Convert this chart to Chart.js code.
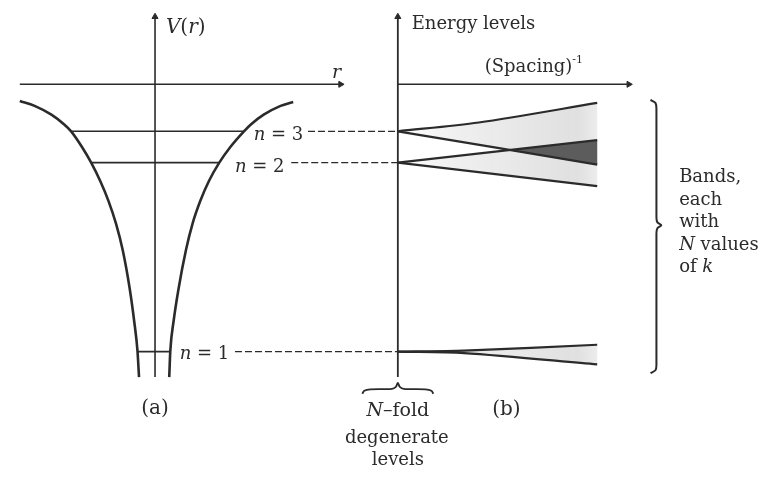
<!DOCTYPE html>
<html><head><meta charset="utf-8">
<script src="https://cdn.jsdelivr.net/npm/chart.js@4"></script>
<style>html,body{margin:0;padding:0;background:#fff}canvas{display:block}</style>
</head><body>
<canvas id="c" width="770" height="480"></canvas>
<script>
// ---------- data (diagram units: x = horizontal position, y = energy; V = 0 on the r axis) ----------
const wellLeftX  = [1.5, 3.0, 4.7, 6.0, 6.7, 7.8, 8.73, 9.66, 10.48, 11.24, 11.92, 12.64, 13.09, 13.42, 13.58];
const wellLeftE  = [-1.7, -2.2, -3.1, -4.1, -4.8, -6.4, -8.0, -9.9, -11.9, -14.2, -16.9, -20.9, -24.2, -27.2, -29.9];
const wellRightX = [29.2, 27.92, 26.21, 24.91, 24.21, 22.83, 21.71, 20.65, 19.79, 19.01, 18.34, 17.58, 17.08, 16.75, 16.64];
const wellRightE = [-1.8, -2.2, -3.1, -4.1, -4.8, -6.4, -8.0, -9.9, -11.9, -14.2, -16.9, -20.9, -24.2, -27.2, -29.9];

const levelLabels = ['3', '2', '1'];
const levelE      = [-4.8, -8.0, -27.3];
const levelLeftX  = [6.7, 8.73, 13.42];
const levelRightX = [24.21, 21.71, 16.75];
const dashStartX  = [30.7, 29.0, 23.3];
const levelLabelX = [25.2, 23.3, 17.7];
const levelLabelY = [-5.7, -9.0, -28.1];

const vAxisX = 15.2, eAxisX = 39.8;
const axisBottomE = -29.9, axisTopE = 6.9;
const rAxisStartX = 1.5, rAxisEndX = 34.0, spacingAxisEndX = 63.2;

// band edges: x positions and energies
const band3UpperX = [39.8, 48.0, 60.0], band3UpperE = [-4.8, -3.9, -1.9];
const band3LowerX = [39.8, 60.0],       band3LowerE = [-4.8, -8.2];
const band2UpperX = [39.8, 60.0],       band2UpperE = [-8.0, -5.7];
const band2LowerX = [39.8, 60.0],       band2LowerE = [-8.0, -10.4];
const band1UpperX = [39.8, 46.5, 60.0], band1UpperE = [-27.3, -27.2, -26.6];
const band1LowerX = [39.8, 46.5, 60.0], band1LowerE = [-27.3, -27.45, -28.6];
const overlapX = [51.0, 60.0, 60.0, 51.0], overlapE = [-6.73, -5.7, -8.2, -6.73];

const braceRightX = [65.4, 65.9, 66.0, 66.0, 66.1, 66.5, 66.1, 66.0, 66.0, 65.9, 65.4];
const braceRightE = [-1.6, -1.9, -2.5, -13.6, -14.1, -14.4, -14.7, -15.2, -28.7, -29.2, -29.5];
const braceBottomX = [36.2, 36.4, 37.0, 39.2, 39.6, 39.8, 40.0, 40.4, 42.6, 43.2, 43.4];
const braceBottomE = [-31.6, -31.3, -31.15, -31.1, -30.9, -30.5, -30.9, -31.1, -31.15, -31.3, -31.6];

// text annotations: parts [text, style] style: 0 roman, 1 italic, 2 superscript
const texts = [
  {parts: [['V',1],['(',0],['r',1],[')',0]], x: 16.3, y: 5.2, align: 'left', size: 20},
  {parts: [['r',1]], x: 33.6, y: 0.6, align: 'center', size: 19},
  {parts: [['Energy levels',0]], x: 41.2, y: 5.6, align: 'left', size: 18},
  {parts: [['(Spacing)',0],['-1',2]], x: 48.6, y: 1.3, align: 'left', size: 18},
  {parts: [['Bands,',0]], x: 68.3, y: -10.0, align: 'left', size: 18},
  {parts: [['each',0]], x: 68.3, y: -12.3, align: 'left', size: 18},
  {parts: [['with',0]], x: 68.3, y: -14.6, align: 'left', size: 18},
  {parts: [['N',1],[' values',0]], x: 68.3, y: -16.9, align: 'left', size: 18},
  {parts: [['of ',0],['k',1]], x: 68.3, y: -19.2, align: 'left', size: 18},
  {parts: [['(a)',0]], x: 15.2, y: -33.7, align: 'center', size: 20},
  {parts: [['(b)',0]], x: 50.8, y: -33.8, align: 'center', size: 20},
  {parts: [['N',1],['\u2013fold',0]], x: 39.8, y: -33.9, align: 'center', size: 19},
  {parts: [['degenerate',0]], x: 39.7, y: -36.6, align: 'center', size: 18},
  {parts: [['levels',0]], x: 39.8, y: -38.9, align: 'center', size: 18}
];

// ---------- build datasets ----------
const INK = '#2b2b2b';
const pts = (xs, ys) => xs.map((x, i) => ({x: x, y: ys[i]}));
const ds = [];
function addLine(data, o) {
  ds.push(Object.assign({data: data, borderColor: INK, borderWidth: 1.8, pointRadius: 0,
    tension: 0, fill: false, order: 1, clip: false}, o || {}));
}
function bandGradient(ctx) {
  const c = ctx.chart;
  if (!c.chartArea) return 'rgba(225,225,225,1)';
  const xs = c.scales.x;
  const g = c.ctx.createLinearGradient(xs.getPixelForValue(eAxisX), 0, xs.getPixelForValue(60.0), 0);
  g.addColorStop(0, 'rgba(226,226,226,0)');
  g.addColorStop(0.3, 'rgba(226,226,226,0.55)');
  g.addColorStop(0.9, 'rgba(224,224,224,1)');
  g.addColorStop(1, 'rgba(236,236,236,1)');
  return g;
}
// fills
const closeShape = (ux, ue, lx, le) => pts(ux, ue).concat(pts(lx.slice().reverse(), le.slice().reverse()));
[[band3UpperX, band3UpperE, band3LowerX, band3LowerE],
 [band2UpperX, band2UpperE, band2LowerX, band2LowerE],
 [band1UpperX, band1UpperE, band1LowerX, band1LowerE]].forEach(b => {
  addLine(closeShape(b[0], b[1], b[2], b[3]), {borderWidth: 0, borderColor: 'rgba(0,0,0,0)',
    fill: 'shape', backgroundColor: bandGradient, order: 10});
});
addLine(pts(overlapX, overlapE), {borderWidth: 0, borderColor: 'rgba(0,0,0,0)',
  fill: 'shape', backgroundColor: '#5c5c5c', order: 9});

// potential well
addLine(pts(wellLeftX, wellLeftE), {borderWidth: 2.6, cubicInterpolationMode: 'monotone'});
addLine(pts(wellRightX, wellRightE), {borderWidth: 2.6, cubicInterpolationMode: 'monotone'});
// axes
addLine(pts([vAxisX, vAxisX], [axisBottomE, axisTopE]), {borderWidth: 1.6});
addLine(pts([rAxisStartX, rAxisEndX], [0, 0]), {borderWidth: 1.6});
addLine(pts([eAxisX, eAxisX], [axisBottomE, axisTopE]), {borderWidth: 1.8});
addLine(pts([eAxisX, spacingAxisEndX], [0, 0]), {borderWidth: 1.6});
// arrowheads
ds.push({data: pts([vAxisX, eAxisX, rAxisEndX, spacingAxisEndX], [axisTopE, axisTopE, 0, 0]),
  showLine: false, pointStyle: 'triangle', pointRadius: 3.5, pointRotation: [0, 0, 90, 90],
  pointBackgroundColor: INK, pointBorderColor: INK, pointBorderWidth: 1, order: 1, clip: false});
// levels
levelE.forEach((e, i) => {
  addLine(pts([levelLeftX[i], levelRightX[i]], [e, e]), {borderWidth: 1.6});
  addLine(pts([dashStartX[i], eAxisX], [e, e]), {borderWidth: 1.3, borderDash: [7, 3]});
});
// band edges
[[band3UpperX, band3UpperE], [band3LowerX, band3LowerE], [band2UpperX, band2UpperE],
 [band2LowerX, band2LowerE], [band1UpperX, band1UpperE], [band1LowerX, band1LowerE]].forEach(b => {
  addLine(pts(b[0], b[1]), {borderWidth: 2.2, tension: 0.3});
});
// braces
addLine(pts(braceRightX, braceRightE), {borderWidth: 2, tension: 0.3});
addLine(pts(braceBottomX, braceBottomE), {borderWidth: 1.8, tension: 0.3});

// ---------- text plugin ----------
const FAMILY = '"DejaVu Serif", "Liberation Serif", serif';
function fontFor(style, size) {
  if (style === 1) return 'italic ' + size + 'px ' + FAMILY;
  if (style === 2) return Math.round(size * 0.6) + 'px ' + FAMILY;
  return size + 'px ' + FAMILY;
}
function drawRich(ctx, parts, px, py, align, size) {
  let total = 0;
  const widths = parts.map(p => { ctx.font = fontFor(p[1], size); const w = ctx.measureText(p[0]).width; total += w; return w; });
  let x = align === 'center' ? px - total / 2 : px;
  parts.forEach((p, i) => {
    ctx.font = fontFor(p[1], size);
    ctx.fillText(p[0], x, p[1] === 2 ? py - size * 0.45 : py);
    x += widths[i];
  });
}
const textPlugin = {
  id: 'texts',
  afterDraw(chart) {
    const ctx = chart.ctx, xs = chart.scales.x, ys = chart.scales.y;
    ctx.save();
    ctx.fillStyle = INK;
    ctx.textBaseline = 'alphabetic';
    ctx.textAlign = 'left';
    texts.forEach(t => drawRich(ctx, t.parts, xs.getPixelForValue(t.x), ys.getPixelForValue(t.y), t.align, t.size));
    levelLabels.forEach((l, i) => drawRich(ctx, [['n',1],[' = ' + l,0]],
      xs.getPixelForValue(levelLabelX[i]), ys.getPixelForValue(levelLabelY[i]), 'left', 18));
    ctx.restore();
  }
};

new Chart(document.getElementById('c'), {
  type: 'line',
  data: {datasets: ds},
  options: {
    responsive: false, animation: false, devicePixelRatio: 1,
    layout: {padding: 0},
    plugins: {legend: {display: false}, tooltip: {enabled: false}},
    events: [],
    scales: {
      x: {type: 'linear', min: 0, max: 77, display: false},
      y: {type: 'linear', min: -39.9, max: 8.1, display: false}
    }
  },
  plugins: [textPlugin]
});
</script>
</body></html>
